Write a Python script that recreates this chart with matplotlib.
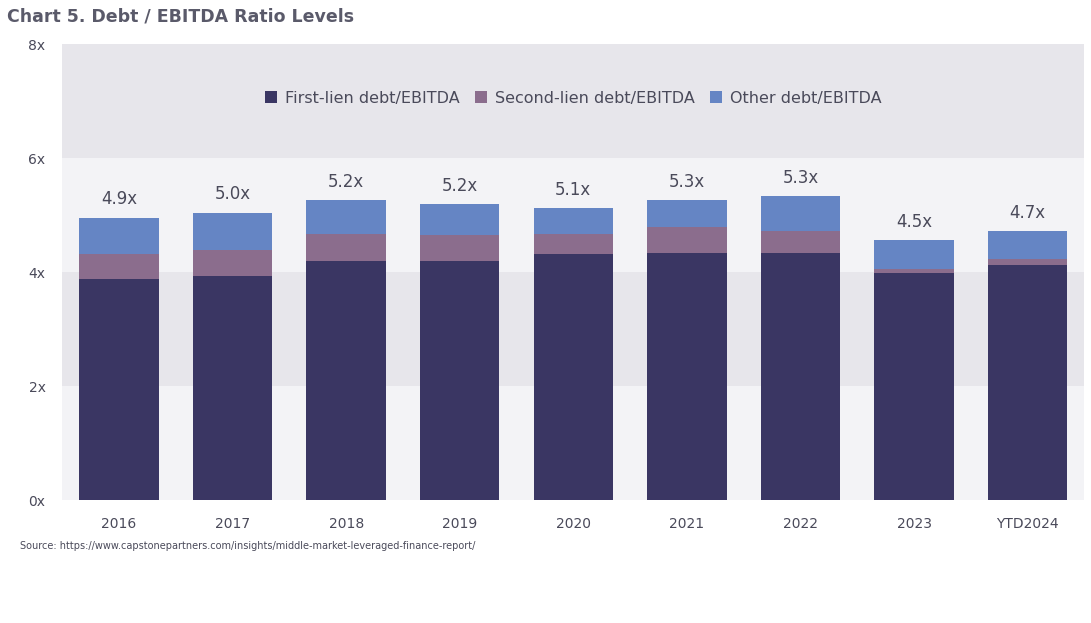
import matplotlib.pyplot as plt
import numpy as np

years = ["2016", "2017", "2018", "2019", "2020", "2021", "2022", "2023", "YTD2024"]
first_lien = [3.89, 3.93, 4.19, 4.19, 4.32, 4.33, 4.33, 3.98, 4.12]
second_lien = [0.43, 0.46, 0.48, 0.46, 0.35, 0.46, 0.39, 0.07, 0.11]
other = [0.64, 0.65, 0.59, 0.54, 0.45, 0.47, 0.61, 0.51, 0.49]
labels = ["4.9x", "5.0x", "5.2x", "5.2x", "5.1x", "5.3x", "5.3x", "4.5x", "4.7x"]

c_first, c_second, c_other = "#3a3663", "#8b6d8d", "#6585c4"

fig = plt.figure(figsize=(10.91, 6.23), dpi=100)
ax = fig.add_axes([0.057, 0.197, 0.937, 0.732])

for lo, col in [(0, "#f3f3f6"), (2, "#e7e6eb"), (4, "#f3f3f6"), (6, "#e7e6eb")]:
    ax.axhspan(lo, lo + 2, color=col, zorder=0, lw=0)

x = np.arange(len(years))
w = 0.70
b1 = np.array(first_lien)
b2 = b1 + np.array(second_lien)
tot = b2 + np.array(other)
ax.bar(x, first_lien, w, color=c_first, label="First-lien debt/EBITDA", zorder=2)
ax.bar(x, second_lien, w, bottom=b1, color=c_second, label="Second-lien debt/EBITDA", zorder=2)
ax.bar(x, other, w, bottom=b2, color=c_other, label="Other debt/EBITDA", zorder=2)
for xi, t, lab in zip(x, tot, labels):
    ax.text(xi, t + 0.17, lab, ha="center", va="bottom", fontsize=12, color="#4a4a5a")

ax.set_xlim(-0.5, len(years) - 0.5)
ax.set_ylim(0, 8)
ax.set_yticks([0, 2, 4, 6, 8])
ax.set_yticklabels(["0x", "2x", "4x", "6x", "8x"])
ax.set_xticks(x)
ax.set_xticklabels(years)
ax.tick_params(length=0, labelsize=10, colors="#4a4a5a")
ax.tick_params(axis="x", pad=12)
ax.tick_params(axis="y", pad=12)
for s in ax.spines.values():
    s.set_visible(False)

ax.legend(loc="upper center", bbox_to_anchor=(0.5, 0.93), ncol=3, frameon=False,
          fontsize=11.5, handlelength=0.7, handleheight=0.7, columnspacing=1.0,
          handletextpad=0.5, labelcolor="#4a4a5a")

fig.text(0.006, 0.965, "Chart 5. Debt / EBITDA Ratio Levels", fontsize=12.5,
         fontweight="bold", color="#5a5a6a")
fig.text(0.018, 0.118, "Source: https://www.capstonepartners.com/insights/middle-market-leveraged-finance-report/",
         fontsize=7, color="#4a4a5a")

fig.savefig("out.png", dpi=100)
